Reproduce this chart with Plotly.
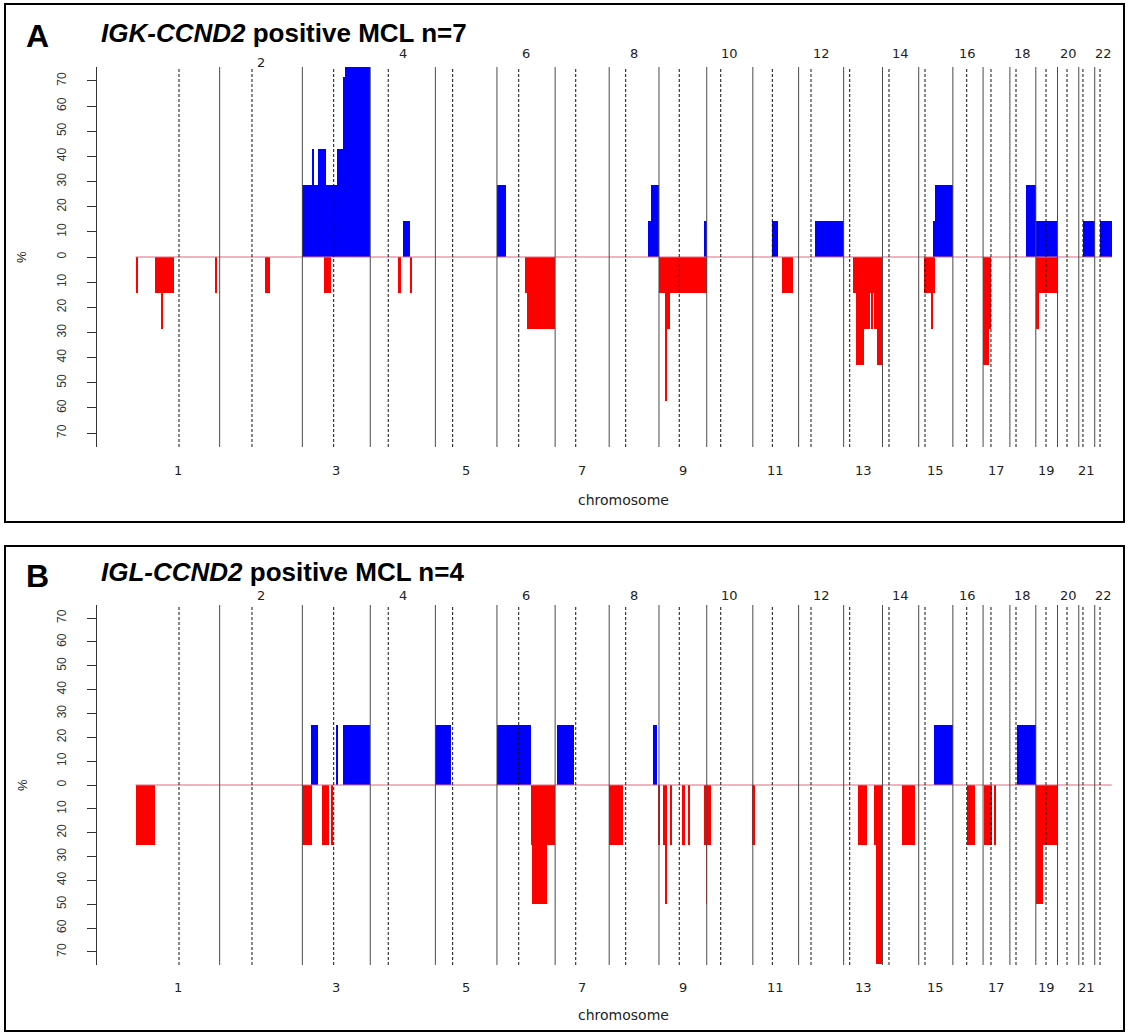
import plotly.graph_objects as go

W, H = 1128, 1034

# ---------------- data ----------------
CHROM_LEN_MB = [247.2, 242.95, 199.5, 191.3, 180.9, 170.9, 158.8, 146.3, 140.3, 135.4, 134.5,
                132.3, 114.1, 106.4, 100.3, 88.8, 78.8, 76.1, 63.8, 62.4, 46.9, 49.7]
CENTROMERE_MB = [127.8, 95.0, 92.1, 52.9, 50.8, 63.9, 60.5, 48.5, 59.6, 41.1, 57.3,
                 36.4, 17.8, 19.1, 18.5, 40.7, 23.2, 17.9, 30.0, 27.9, 12.3, 15.6]
Y_TICKS = [-70, -60, -50, -40, -30, -20, -10, 0, 10, 20, 30, 40, 50, 60, 70]

# (chromosome, start Mb, end Mb, percent of cases)
A_GAIN = [
    (3, 0, 199.5, 28.6), (3, 27.5, 34.2, 42.9), (3, 46.9, 69.5, 42.9), (3, 102.7, 120.3, 42.9),
    (3, 120.3, 126.2, 71.4), (3, 126.2, 199.5, 85.7),
    (4, 96.9, 117.5, 14.3), (6, 0, 27.4, 28.6),
    (8, 114.9, 146.3, 14.3), (8, 122.8, 146.3, 28.6), (9, 133.1, 140.3, 14.3),
    (11, 56.4, 73.0, 14.3), (12, 47.3, 132.3, 14.3),
    (15, 41.1, 100.3, 14.3), (15, 48.0, 100.3, 28.6),
    (18, 46.4, 76.1, 28.6), (19, 0, 63.8, 14.3), (21, 13.2, 46.9, 14.3), (22, 15.6, 49.7, 14.3),
]
A_LOSS = [
    (1, 1.5, 8.2, 14.3), (1, 58.2, 112.2, 14.3), (1, 75.0, 80.5, 28.6), (1, 232.9, 239.7, 14.3),
    (2, 133.2, 147.9, 14.3), (3, 64.5, 84.2, 14.3),
    (4, 80.5, 89.3, 14.3), (4, 116.6, 122.5, 14.3),
    (6, 83.3, 170.9, 14.3), (6, 89.2, 170.9, 28.6),
    (9, 0, 140.3, 14.3), (9, 18.5, 33.2, 28.6), (9, 19.5, 24.0, 42.9), (9, 20.5, 23.0, 57.1),
    (11, 85.8, 117.2, 14.3),
    (13, 27.5, 114.1, 14.3), (13, 35.8, 76.9, 28.6), (13, 79.9, 85.8, 28.6), (13, 89.6, 114.1, 28.6),
    (13, 35.8, 59.3, 42.9), (13, 98.2, 114.1, 42.9),
    (15, 16.5, 48.8, 14.3), (15, 36.1, 42.9, 28.6),
    (17, 0, 23.2, 28.6), (17, 0, 17.6, 42.9),
    (19, 0, 63.8, 14.3), (19, 0, 9.7, 28.6),
]
B_GAIN = [
    (3, 25.4, 46.9, 25), (3, 100.9, 104.7, 25), (3, 118.5, 199.5, 25),
    (5, 0, 46.1, 25), (6, 0, 100.9, 25), (7, 5.6, 54.6, 25), (8, 129.0, 140.8, 25),
    (15, 44.9, 100.3, 25), (18, 20.9, 76.1, 25),
]
B_LOSS = [
    (1, 0, 57.3, 25), (3, 0, 28.3, 25), (3, 57.7, 78.3, 25), (3, 86.0, 90.0, 25),
    (6, 99.1, 170.9, 25), (6, 103.8, 146.1, 50), (8, 0.3, 41.4, 25),
    (9, 0, 3.0, 25), (9, 12.6, 16.7, 25), (9, 19.7, 22.6, 25), (9, 20.6, 22.0, 50),
    (9, 33.2, 39.1, 25), (9, 67.6, 76.4, 25), (9, 86.1, 91.9, 25), (9, 133.1, 140.3, 25),
    (9, 138.8, 140.3, 50),
    (10, 0, 13.5, 25), (11, 0, 5.3, 25),
    (13, 43.0, 69.5, 25), (13, 89.6, 114.1, 25), (13, 94.6, 114.1, 75),
    (14, 58.2, 94.6, 25), (16, 42.3, 64.0, 25), (17, 3.5, 25.3, 25), (17, 34.7, 38.5, 25),
    (19, 0.6, 63.8, 25), (19, 0.6, 22.0, 50),
]

# ---------------- helpers ----------------
OFFSET = [0.0]
for L in CHROM_LEN_MB:
    OFFSET.append(OFFSET[-1] + L)
TOTAL = OFFSET[-1]

PX_PER_MB = 0.3404
ORIGIN_PX = 135.5
LEFT_PX, RIGHT_PX = 97, 1120
X0 = -(ORIGIN_PX - LEFT_PX) / PX_PER_MB
X_RANGE = [X0, X0 + (RIGHT_PX - LEFT_PX) / PX_PER_MB]


def py(p):
    return 1 - p / H


def pxx(p):
    return p / W


def bars(segs, sign, color, xa, ya):
    xs, ws, ys = [], [], []
    for ch, s, e, v in segs:
        gs, ge = OFFSET[ch - 1] + s, OFFSET[ch - 1] + e
        xs.append((gs + ge) / 2)
        ws.append(max(ge - gs, 1.5))
        ys.append(sign * v)
    return go.Bar(x=xs, y=ys, width=ws, base=0, marker=dict(color=color, line=dict(width=0)),
                  xaxis=xa, yaxis=ya, showlegend=False, hoverinfo='skip')


FONT = "Liberation Sans, Arial, sans-serif"
LBL_FONT = "DejaVu Sans, sans-serif"

panels = [
    dict(xa='x', ya='y', gain=A_GAIN, loss=A_LOSS, top=67, bot=447, box=(4, 522),
         letter='A', letter_y=36.5, title='<b><i>IGK-CCND2</i> positive MCL n=7</b>', title_y=32.5,
         even_y=54, even_y_first=63, odd_y=470, xlab_y=500),
    dict(xa='x2', ya='y2', gain=B_GAIN, loss=B_LOSS, top=605, bot=965, box=(546, 1031),
         letter='B', letter_y=575.5, title='<b><i>IGL-CCND2</i> positive MCL n=4</b>', title_y=571.5,
         even_y=595, even_y_first=595, odd_y=987, xlab_y=1015),
]

fig = go.Figure()
shapes, annotations = [], []
layout_axes = {}

for i, p in enumerate(panels):
    xa, ya = p['xa'], p['ya']
    fig.add_trace(bars(p['gain'], 1, '#0000FF', xa, ya))
    fig.add_trace(bars(p['loss'], -1, '#FF0000', xa, ya))
    fig.add_trace(go.Scatter(x=[0, TOTAL], y=[0, 0], mode='lines', line=dict(color='#E8697E', width=1.2),
                             xaxis=xa, yaxis=ya, showlegend=False, hoverinfo='skip'))

    xkey = 'xaxis' if i == 0 else 'xaxis2'
    ykey = 'yaxis' if i == 0 else 'yaxis2'
    layout_axes[xkey] = dict(domain=[pxx(LEFT_PX), pxx(RIGHT_PX)], range=X_RANGE, visible=False,
                             anchor=ya, fixedrange=True)
    layout_axes[ykey] = dict(domain=[py(p['bot']), py(p['top'])], range=[-75.5, 75.5], anchor=xa,
                             showline=True, linecolor='#333333', linewidth=1, ticks='outside', ticklen=9,
                             tickwidth=1, tickcolor='#333333', tickvals=Y_TICKS,
                             ticktext=[str(abs(t)) for t in Y_TICKS], tickangle=-90,
                             tickfont=dict(family=FONT, size=12, color='#333333'),
                             ticklabelstandoff=16, showgrid=False, zeroline=False, fixedrange=True)

    # chromosome boundaries and centromeres
    for b in OFFSET[1:-1]:
        shapes.append(dict(type='line', xref=xa, yref=f'{ya} domain', x0=b, x1=b, y0=0, y1=1,
                           line=dict(color='#4a4a4a', width=1)))
    for c in range(22):
        xc = OFFSET[c] + CENTROMERE_MB[c]
        shapes.append(dict(type='line', xref=xa, yref=f'{ya} domain', x0=xc, x1=xc, y0=0, y1=1,
                           line=dict(color='#111111', width=1, dash='3px,2px')))

    # chromosome labels
    for c in range(22):
        xc = OFFSET[c] + CHROM_LEN_MB[c] / 2
        if (c + 1) % 2 == 1:
            yy = p['odd_y']
        else:
            yy = p['even_y_first'] if c + 1 == 2 else p['even_y']
        annotations.append(dict(text=str(c + 1), x=xc, xref=xa, y=py(yy), yref='paper', showarrow=False,
                                xanchor='center', yanchor='middle',
                                font=dict(family=LBL_FONT, size=13, color='#222222')))
    annotations.append(dict(text='chromosome', x=pxx(623), xref='paper', y=py(p['xlab_y']), yref='paper',
                            showarrow=False, xanchor='center', yanchor='middle',
                            font=dict(family=LBL_FONT, size=14, color='#222222')))
    annotations.append(dict(text='%', x=pxx(22), xref='paper', y=py((p['top'] + p['bot']) / 2), yref='paper',
                            showarrow=False, xanchor='center', yanchor='middle', textangle=-90,
                            font=dict(family=FONT, size=13, color='#222222')))
    annotations.append(dict(text=f"<b>{p['letter']}</b>", x=pxx(37.5), xref='paper', y=py(p['letter_y']),
                            yref='paper', showarrow=False, xanchor='center', yanchor='middle',
                            font=dict(family=FONT, size=32, color='#000000')))
    annotations.append(dict(text=p['title'], x=pxx(99), xref='paper', y=py(p['title_y']),
                            yref='paper', showarrow=False, xanchor='left', yanchor='middle',
                            font=dict(family=FONT, size=26, color='#000000')))
    # panel frame
    shapes.append(dict(type='rect', xref='paper', yref='paper', x0=pxx(5), x1=pxx(1124),
                       y0=py(p['box'][1]), y1=py(p['box'][0]), line=dict(color='#000000', width=2),
                       fillcolor='rgba(0,0,0,0)'))

fig.update_layout(width=W, height=H, margin=dict(l=0, r=0, t=0, b=0), barmode='overlay', bargap=0,
                  plot_bgcolor='white', paper_bgcolor='white', shapes=shapes, annotations=annotations,
                  showlegend=False, **layout_axes)

fig.write_html("out.html")
